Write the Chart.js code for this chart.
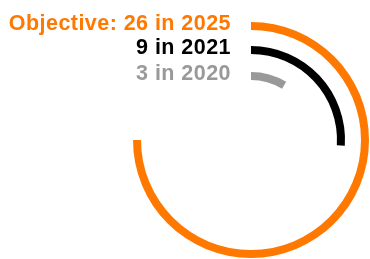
<!DOCTYPE html>
<html>
<head>
<meta charset="utf-8">
<script src="https://cdn.jsdelivr.net/npm/chart.js@4.4.0/dist/chart.umd.min.js"></script>
<style>
  html, body { margin: 0; padding: 0; background: #fff; }
  #wrap { width: 370px; height: 259px; }
</style>
</head>
<body>
<div id="wrap"><canvas id="rings"></canvas></div>
<script>
// values (outer ring to inner ring)
const labels = ["Objective: 26 in 2025", "9 in 2021", "3 in 2020"];
const values = [26, 9, 3];
const colors = ["#ff7900", "#000000", "#999999"];
// the objective (26) covers three quarters of the circle
const fullCircle = 26 / 0.75;

document.addEventListener("DOMContentLoaded", function() {
    var datasets = [];
    values.forEach(function(v, i) {
        if (i > 0) {
            // transparent spacer ring between the arcs
            datasets.push({ data: [1], backgroundColor: ['rgba(0,0,0,0)'], weight: i === 1 ? 16 : 18, spacer: true });
        }
        datasets.push({
            label: labels[i],
            data: [v, fullCircle - v],
            backgroundColor: [colors[i], 'rgba(0,0,0,0)'],
            weight: 8,
            ringIndex: i
        });
    });

    // writes each label to the left of the start of its arc
    var ringLabels = {
        id: 'ringLabels',
        afterDatasetsDraw: function(chart) {
            var ctx = chart.ctx;
            ctx.save();
            ctx.font = 'bold 21.5px "Liberation Sans", Arial, sans-serif';
            ctx.letterSpacing = '0.45px';
            ctx.textAlign = 'right';
            ctx.textBaseline = 'alphabetic';
            chart.data.datasets.forEach(function(ds, di) {
                if (ds.spacer) return;
                var arc = chart.getDatasetMeta(di).data[0];
                var mid = (arc.innerRadius + arc.outerRadius) / 2;
                ctx.fillStyle = colors[ds.ringIndex];
                ctx.fillText(labels[ds.ringIndex], arc.x - 20, arc.y - mid + 4);
            });
            ctx.restore();
        }
    };

    new Chart(document.getElementById('rings'), {
        type: 'doughnut',
        data: { labels: ['value', 'rest'], datasets: datasets },
        options: {
            responsive: true,
            maintainAspectRatio: false,
            animation: false,
            cutout: '50.85%',
            borderWidth: 0,
            layout: { padding: { left: 133, right: 1, top: 22, bottom: 1 } },
            plugins: { legend: { display: false }, tooltip: { enabled: false } },
            events: []
        },
        plugins: [ringLabels]
    });
});
</script>
</body>
</html>
